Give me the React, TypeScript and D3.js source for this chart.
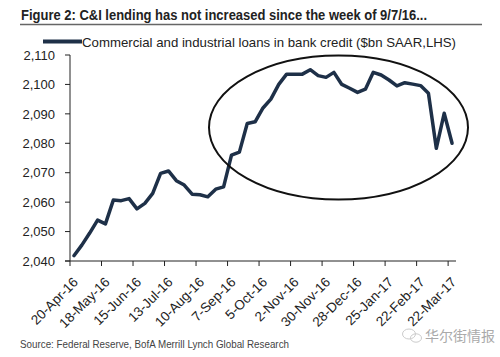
import React from "react";
import * as d3 from "d3";

const values: number[] = [
  2041.8, 2045.4, 2049.5, 2053.9, 2052.6, 2060.7, 2060.5, 2061.2, 2057.7, 2059.6,
  2063.0, 2069.8, 2070.6, 2067.3, 2065.8, 2062.7, 2062.5, 2061.8, 2064.4, 2065.2,
  2076.0, 2077.0, 2086.7, 2087.3, 2092.0, 2095.0, 2100.0, 2103.5, 2103.5, 2103.5,
  2105.0, 2103.0, 2102.4, 2104.1, 2100.0, 2098.7, 2097.3, 2098.4, 2104.1, 2103.2,
  2101.5, 2099.5, 2100.6, 2100.1, 2099.6, 2097.0, 2078.3, 2090.2, 2080.0,
];
const tickLabels: string[] = [
  "20-Apr-16", "18-May-16", "15-Jun-16", "13-Jul-16", "10-Aug-16", "7-Sep-16",
  "5-Oct-16", "2-Nov-16", "30-Nov-16", "28-Dec-16", "25-Jan-17", "22-Feb-17", "22-Mar-17",
];
const yTicks: number[] = [2040, 2050, 2060, 2070, 2080, 2090, 2100, 2110];
const title = "Figure 2: C&I lending has not increased since the week of 9/7/16...";
const legendLabel = "Commercial and industrial loans in bank credit ($bn SAAR,LHS)";
const source = "Source: Federal Reserve, BofA Merrill Lynch Global Research";
const watermark = "华尔街情报";

export default function App() {
  const W = 500, H = 357;
  const x = d3.scaleLinear().domain([-0.5, values.length - 0.5]).range([70, 456]);
  const y = d3.scaleLinear().domain([2040, 2110]).range([261, 55]);
  const line = d3.line<number>().x((_, i) => x(i)).y((d) => y(d));
  const fmt = d3.format(",");
  const lineColor = "#1e3048";
  return (
    <svg width={W} height={H} style={{ position: "absolute", left: 0, top: 0, background: "#fff" }}
      fontFamily="Arial, 'Liberation Sans', sans-serif">
      <rect width={W} height={H} fill="#fff" />
      <text x={21} y={20} fontSize={14} fontWeight="bold" fill="#222"
        textLength={406} lengthAdjust="spacingAndGlyphs">{title}</text>
      <line x1={20} x2={482} y1={24.5} y2={24.5} stroke="#666" strokeWidth={1.5} />
      {/* legend */}
      <line x1={43} x2={82} y1={41.5} y2={41.5} stroke={lineColor} strokeWidth={4} />
      <text x={82} y={46.5} fontSize={13} fill="#222" textLength={374}
        lengthAdjust="spacingAndGlyphs">{legendLabel}</text>
      {/* y axis */}
      <line x1={70} x2={70} y1={y(2110)} y2={y(2040)} stroke="#222" strokeWidth={1} />
      {yTicks.map((t) => (
        <g key={t}>
          <line x1={65} x2={70} y1={y(t)} y2={y(t)} stroke="#222" />
          <text x={55} y={y(t)} dy="0.36em" textAnchor="end" fontSize={13} fill="#222">{fmt(t)}</text>
        </g>
      ))}
      {/* x axis */}
      <line x1={65} x2={456} y1={261} y2={261} stroke="#222" />
      {tickLabels.map((l, k) => (
        <g key={l}>
          <line x1={x(4 * k - 0.5)} x2={x(4 * k - 0.5)} y1={261} y2={266} stroke="#222" />
          <text transform={`translate(${x(4 * k) + 5},${283}) rotate(-45)`} textAnchor="end"
            fontSize={13.5} fill="#222">{l}</text>
        </g>
      ))}
      <path d={line(values) || ""} fill="none" stroke={lineColor} strokeWidth={3.5}
        strokeLinejoin="round" strokeLinecap="round" />
      <ellipse cx={338.5} cy={127.5} rx={129.5} ry={72} fill="none" stroke="#111" strokeWidth={2} />
      <text x={20} y={348} fontSize={11} fill="#444" textLength={269}
        lengthAdjust="spacingAndGlyphs">{source}</text>
      {/* watermark */}
      <g stroke="#ccc" fill="none" strokeWidth={1}>
        <ellipse cx={409} cy={334} rx={6.5} ry={5} />
        <ellipse cx={416} cy={338} rx={5.5} ry={4.2} />
      </g>
      <text x={425} y={341} fontSize={14} fill="#aaa"
        fontFamily="'Noto Sans CJK SC', sans-serif">{watermark}</text>
    </svg>
  );
}
